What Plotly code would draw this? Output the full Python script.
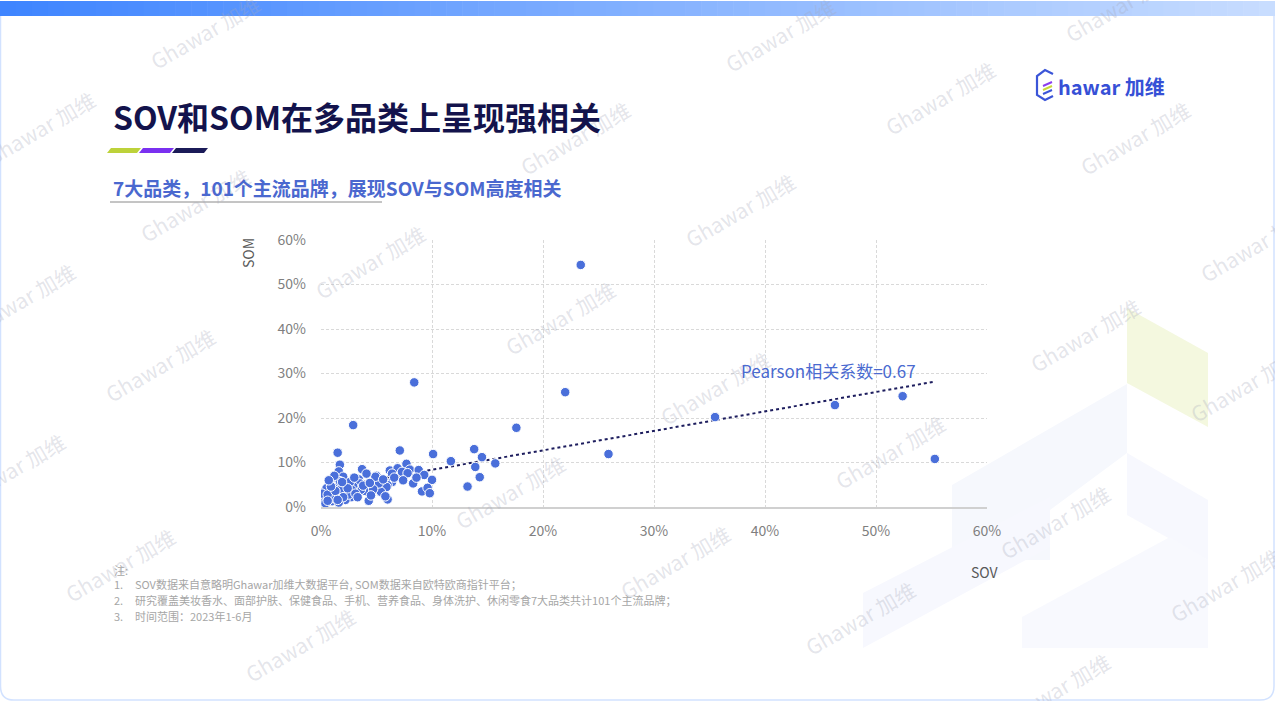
import numpy as np
import plotly.graph_objects as go

# ---------------- data (percent units) ----------------
sov = [23.4, 22.0, 8.4, 17.6, 25.9, 35.5, 46.3, 52.4, 55.3, 2.9, 1.5, 10.1, 11.7, 13.8, 14.5, 15.7, 13.9, 14.3, 13.2, 7.1,
       6.2, 6.9, 7.7, 8.0, 8.8, 7.3, 6.4, 9.3, 10.0, 6.4, 8.3, 6.0, 5.9, 9.1, 9.6, 9.8, 6.0, 5.4, 5.0, 5.2, 7.8,
       1.7, 1.6, 3.7, 3.4, 4.3, 2.7, 3.5, 4.0, 4.7, 2.3, 0.9, 1.4, 2.2, 0.8, 0.5, 0.4, 1.0, 1.4, 0.7, 2.0,
       3.6, 2.9, 4.9, 2.8, 0.2, 1.9, 2.2, 0.5, 0.1, 1.2, 1.8, 0.3, 1.1, 2.5, 3.1, 4.5, 1.6, 0.6, 1.3, 2.0,
       3.8, 4.4, 0.9, 1.7, 2.6, 0.4, 1.5, 3.3, 2.4, 5.6, 6.6, 7.4, 8.6, 5.8, 3.0, 1.2, 0.7, 4.1, 1.9, 0.6]
som = [54.4, 25.8, 28.0, 17.8, 11.9, 20.2, 22.9, 24.9, 10.8, 18.4, 12.2, 11.9, 10.3, 13.0, 11.2, 9.8, 9.0, 6.7, 4.6, 12.7,
       8.2, 8.7, 9.7, 8.4, 8.3, 7.9, 7.5, 7.2, 6.1, 5.6, 5.3, 4.9, 4.5, 3.5, 4.3, 3.1, 1.7, 3.4, 7.0, 5.3, 7.6,
       9.5, 8.0, 8.5, 6.2, 1.4, 2.2, 5.3, 3.6, 4.0, 3.4, 3.4, 5.3, 4.9, 5.3, 3.4, 1.6, 1.3, 2.5, 2.2, 6.8,
       3.9, 4.6, 6.8, 3.8, 2.3, 3.1, 1.6, 4.2, 3.0, 4.3, 4.0, 1.0, 2.0, 2.8, 3.0, 2.6, 1.0, 2.8, 3.6, 2.2,
       4.8, 5.4, 4.6, 5.8, 5.6, 0.8, 1.6, 2.2, 4.2, 6.2, 6.6, 6.0, 6.6, 2.4, 6.6, 7.0, 6.0, 7.5, 5.6, 1.4]

x_ticks = [0, 10, 20, 30, 40, 50, 60]
y_ticks = [0, 10, 20, 30, 40, 50, 60]
x_tick_labels = ["0%", "10%", "20%", "30%", "40%", "50%", "60%"]
y_tick_labels = ["0%", "10%", "20%", "30%", "40%", "50%", "60%"]
pearson_text = "Pearson相关系数=0.67"
title_text = "SOV和SOM在多品类上呈现强相关"
subtitle_text = "7大品类，101个主流品牌，展现SOV与SOM高度相关"
notes = ["SOV数据来自意略明Ghawar加维大数据平台, SOM数据来自欧特欧商指针平台；",
         "研究覆盖美妆香水、面部护肤、保健食品、手机、营养食品、身体洗护、休闲零食7大品类共计101个主流品牌；",
         "时间范围：2023年1-6月"]

W, H = 1275, 701
L, R, T, B = 321, 987, 240, 507


def px(x):
    return (x - L) / (R - L)


def py(y):
    return (B - y) / (B - T)


FONT = "Noto Sans CJK SC"

fig = go.Figure()

# trendline (least squares on the data)
slope, intercept = np.polyfit(sov, som, 1)
tx = np.array([0, max(sov)])
fig.add_trace(go.Scatter(x=tx, y=intercept + slope * tx, mode="lines",
                         line=dict(color="#1d1d5e", width=2, dash="dot"),
                         hoverinfo="skip", showlegend=False))

fig.add_trace(go.Scatter(x=sov, y=som, mode="markers",
                         marker=dict(color="#4a6fda", size=9.5, line=dict(color="white", width=1)),
                         showlegend=False))

shapes = []


def poly(points, color):
    d = "M " + " L ".join(f"{px(a):.5f},{py(b):.5f}" for a, b in points) + " Z"
    return dict(type="path", xref="paper", yref="paper", path=d, fillcolor=color,
                line=dict(width=0), layer="below")


# background decorative shapes (bottom right)
shapes.append(poly([(1127, 308), (1208, 353), (1208, 427), (1127, 383)], "#f4f8df"))
shapes.append(poly([(952, 485), (1127, 384), (1127, 453), (1050, 510), (1050, 560), (952, 560)], "#f6f8fd"))
shapes.append(poly([(863, 593), (1050, 497), (1050, 547), (863, 648)], "#f7f8fe"))
shapes.append(poly([(1127, 453), (1208, 500), (1208, 560), (1127, 515)], "#f7f8fe"))
shapes.append(poly([(1022, 617), (1170, 537), (1208, 560), (1208, 648), (1022, 648)], "#f8f9fe"))

# top gradient bar
n = 80
c0 = np.array([0x3f, 0x85, 0xff])
c1 = np.array([0xc8, 0xdd, 0xff])
for i in range(n):
    t = i / (n - 1)
    c = (c0 * (1 - t) + c1 * t).astype(int)
    shapes.append(dict(type="rect", xref="paper", yref="paper",
                       x0=px(i * W / n), x1=px((i + 1) * W / n + 0.6),
                       y0=py(16), y1=py(1), fillcolor=f"rgb({c[0]},{c[1]},{c[2]})",
                       line=dict(width=0), layer="below"))

# page border (rounded)
r = 14
border = (f"M {px(0.5)},{py(16)} L {px(0.5)},{py(H - 1 - r)} "
          f"Q {px(0.5)},{py(H - 1)} {px(r)},{py(H - 1)} L {px(W - 1 - r)},{py(H - 1)} "
          f"Q {px(W - 1)},{py(H - 1)} {px(W - 1)},{py(H - 1 - r)} L {px(W - 1)},{py(16)}")
shapes.append(dict(type="path", xref="paper", yref="paper", path=border,
                   line=dict(color="#d2e2ff", width=1.5), layer="below"))

# title stripes
for (a, b, col) in [(107, 137, "#bdd23a"), (139, 170, "#7a30f0"), (172, 204, "#1b1b58")]:
    shapes.append(poly([(a + 4, 148), (b + 4, 148), (b, 153), (a, 153)], col))

# subtitle underline
shapes.append(dict(type="line", xref="paper", yref="paper", x0=px(110), x1=px(382),
                   y0=py(202), y1=py(202), line=dict(color="#8a8a8a", width=1)))

# logo hexagon "G"
hexpath = [(1053, 74), (1045, 70), (1037, 76), (1037, 95), (1045, 100), (1053, 96)]
d = "M " + " L ".join(f"{px(a):.5f},{py(b):.5f}" for a, b in hexpath)
shapes.append(dict(type="path", xref="paper", yref="paper", path=d,
                   line=dict(color="#3b55d8", width=2.2)))
for (yy, col) in [(84, "#8a3cf0"), (88, "#c9d83a"), (92, "#3b55d8")]:
    shapes.append(dict(type="line", xref="paper", yref="paper",
                       x0=px(1043), x1=px(1052), y0=py(yy + 2), y1=py(yy - 2),
                       line=dict(color=col, width=2)))

annotations = []


def ann(x, y, text, size, color, xanchor="center", yanchor="middle", angle=0, family=FONT):
    annotations.append(dict(x=px(x), y=py(y), xref="paper", yref="paper", text=text,
                            showarrow=False, xanchor=xanchor, yanchor=yanchor, textangle=angle,
                            font=dict(family=family, size=size, color=color)))


# watermarks (partly cut by the page edge, as in the original slide)
wm = [(205, 32), (780, 35), (1120, 5), (40, 128), (575, 138), (940, 98), (1135, 138),
      (195, 205), (740, 210), (1255, 245), (370, 262), (20, 300), (560, 318), (1085, 335),
      (160, 365), (715, 388), (1245, 385), (10, 470), (510, 492), (890, 452), (1055, 522),
      (120, 565), (675, 562), (1225, 585), (300, 645), (860, 618), (1055, 690)]
for (a, b) in wm:
    ann(a, b, "Ghawar 加维", 21, "rgba(165,168,185,0.30)", angle=-30)

# title & subtitle
ann(111, 116, f"<b>{title_text}</b>", 32, "#13134c", xanchor="left")
ann(111, 187, f"<b>{subtitle_text}</b>", 19, "#4a68cf", xanchor="left")

# logo text
ann(1056, 87, "<b>hawar 加维</b>", 20, "#3650d6", xanchor="left")

# axis titles
ann(248, 253, "SOM", 14, "#595959", angle=-90)
ann(985, 572, "SOV", 14, "#595959")

# pearson label
ann(828, 370, pearson_text, 17, "#4a6ad0")

# notes
ann(112, 570, "注:", 11, "#a6a6a6", xanchor="left")
for i, t in enumerate(notes):
    yy = 584 + i * 16
    ann(112, yy, f"{i + 1}.", 11, "#a6a6a6", xanchor="left")
    ann(133, yy, t, 11, "#a6a6a6", xanchor="left")

axis_common = dict(showgrid=True, gridcolor="#d9d9d9", griddash="3px,2px", gridwidth=1,
                   zeroline=False, ticks="", tickmode="array",
                   tickfont=dict(family=FONT, size=14, color="#7f7f7f"),
                   range=[0, 60], fixedrange=True)

fig.update_layout(
    width=W, height=H,
    margin=dict(l=L, r=W - R, t=T, b=H - B, autoexpand=False),
    paper_bgcolor="white", plot_bgcolor="rgba(0,0,0,0)",
    xaxis=dict(**axis_common, tickvals=x_ticks, ticktext=x_tick_labels, ticklabelstandoff=10,
               showline=True, linecolor="#d0d0d0", linewidth=1.5),
    yaxis=dict(**axis_common, tickvals=y_ticks, ticktext=y_tick_labels, ticklabelstandoff=14,
               showline=False),
    shapes=shapes, annotations=annotations, showlegend=False,
)

fig.write_html("out.html", config={"displayModeBar": False},
               post_script="document.body.style.margin='0';document.body.style.overflow='hidden';")
